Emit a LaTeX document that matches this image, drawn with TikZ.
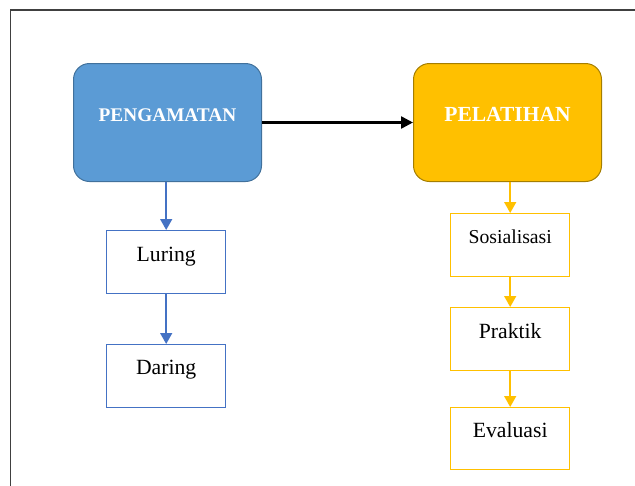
\documentclass[tikz,border=0pt]{standalone}
\usepackage{fontspec}
\setmainfont{Liberation Serif}
\usetikzlibrary{arrows.meta}
\definecolor{pblue}{HTML}{5B9BD5}
\definecolor{pbluedark}{HTML}{41719C}
\definecolor{lblue}{HTML}{4472C4}
\definecolor{porange}{HTML}{FFC000}
\definecolor{porangedark}{HTML}{A57E00}
\definecolor{frame}{HTML}{404040}
\tikzset{
  bigbox/.style={draw, line width=1pt, rounded corners=16pt, inner sep=0pt,
    minimum width=188pt, text height=58pt, text depth=60pt, anchor=north west,
    text=white, font=\bfseries},
  smallbox/.style={draw, line width=1.4pt, fill=white, inner sep=0pt,
    minimum width=119pt, anchor=north west, text=black},
  bluearrow/.style={lblue, line width=1.5pt, -{Triangle[length=11pt,width=12pt]}},
  orangearrow/.style={porange, line width=1.5pt, -{Triangle[length=11pt,width=12pt]}},
  blackarrow/.style={black, line width=2.5pt, -{Triangle[length=12pt,width=12pt]}},
}
\begin{document}
\begin{tikzpicture}[x=1pt,y=-1pt]
\useasboundingbox (0,0) rectangle (635,485);
\begin{scope}
\clip (0,0) rectangle (635,485);
\draw[frame, line width=1.3pt] (640,10) -- (10.5,10) -- (10.5,490);
\end{scope}
% main boxes
\node[bigbox, fill=pblue, draw=pbluedark, font=\bfseries\fontsize{19.3}{22}\selectfont] (peng) at (73,63) {PENGAMATAN};
\node[bigbox, fill=porange, draw=porangedark, font=\bfseries\fontsize{21.5}{24}\selectfont] (pel) at (413,63) {PELATIHAN};
% left column
\node[smallbox, draw=lblue, text height=31pt, text depth=32pt, font=\fontsize{21.7}{24}\selectfont] (lur) at (106,230) {Luring};
\node[smallbox, draw=lblue, text height=30pt, text depth=33pt, font=\fontsize{21.7}{24}\selectfont] (dar) at (106,344) {Daring};
% right column
\node[smallbox, draw=porange, text height=30pt, text depth=33pt, font=\fontsize{19.7}{22}\selectfont] (sos) at (450,213) {Sosialisasi};
\node[smallbox, draw=porange, text height=31pt, text depth=32pt, font=\fontsize{21.7}{24}\selectfont] (pra) at (450,307) {Praktik};
\node[smallbox, draw=porange, text height=30pt, text depth=32pt, font=\fontsize{21.7}{24}\selectfont] (eva) at (450,407) {Evaluasi};
% connectors
\draw[blackarrow] (peng.east) -- (pel.west);
\draw[bluearrow] (peng.south -| lur.north) -- (lur.north);
\draw[bluearrow] (lur.south) -- (dar.north);
\draw[orangearrow] (pel.south -| sos.north) -- (sos.north);
\draw[orangearrow] (sos.south) -- (pra.north);
\draw[orangearrow] (pra.south) -- (eva.north);
\end{tikzpicture}
\end{document}
